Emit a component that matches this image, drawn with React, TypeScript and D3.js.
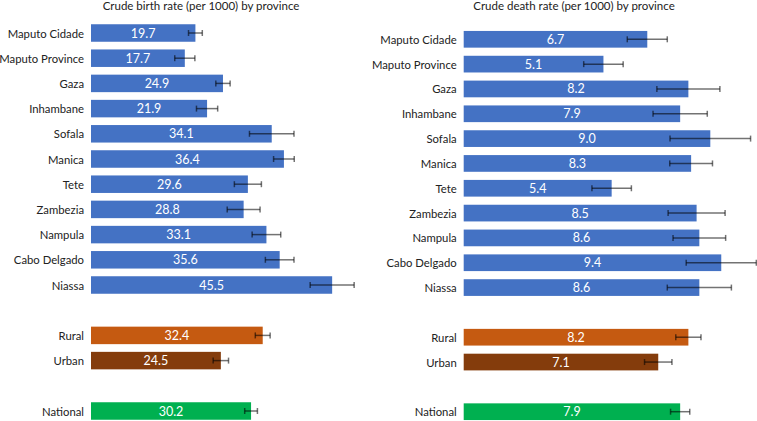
import { scaleLinear } from 'd3'

const width = 757
const height = 421

const provinces = [
  'Maputo Cidade',
  'Maputo Province',
  'Gaza',
  'Inhambane',
  'Sofala',
  'Manica',
  'Tete',
  'Zambezia',
  'Nampula',
  'Cabo Delgado',
  'Niassa',
]
const residence = ['Rural', 'Urban']
const nationalLabel = 'National'

const birthProvince = [19.7, 17.7, 24.9, 21.9, 34.1, 36.4, 29.6, 28.8, 33.1, 35.6, 45.5]
const birthProvinceErr = [1.3, 1.9, 1.35, 2.0, 4.2, 1.95, 2.55, 3.1, 2.7, 2.7, 4.15]
const birthResidence = [32.4, 24.5]
const birthResidenceErr = [1.4, 1.45]
const birthNational = 30.2
const birthNationalErr = 1.2

const deathProvince = [6.7, 5.1, 8.2, 7.9, 9.0, 8.3, 5.4, 8.5, 8.6, 9.4, 8.6]
const deathProvinceErr = [0.73, 0.72, 1.15, 0.99, 1.47, 0.78, 0.72, 1.04, 0.96, 1.28, 1.17]
const deathResidence = [8.2, 7.1]
const deathResidenceErr = [0.46, 0.5]
const deathNational = 7.9
const deathNationalErr = 0.35

const colors = {
  province: '#4472C4',
  Rural: '#C55A11',
  Urban: '#843C0C',
  National: '#00B050',
}

const font = 'Lato, "Open Sans", sans-serif'

type Row = { label: string; value: number; err: number; slot: number; color: string }

const buildRows = (prov: number[], provErr: number[], res: number[], resErr: number[], nat: number, natErr: number): Row[] => [
  ...provinces.map((p, i) => ({ label: p, value: prov[i], err: provErr[i], slot: i, color: colors.province })),
  ...residence.map((r, i) => ({ label: r, value: res[i], err: resErr[i], slot: 12 + i, color: colors[r as 'Rural' | 'Urban'] })),
  { label: nationalLabel, value: nat, err: natErr, slot: 15, color: colors.National },
]

const Panel = ({ title, rows, xMax, x0, x1, y0, y1, barH, titleX, fmt }: {
  title: string; rows: Row[]; xMax: number; x0: number; x1: number; y0: number; y1: number; barH: number; titleX: number; fmt: (v: number) => string
}) => {
  const xScale = scaleLinear().domain([0, xMax]).range([x0, x1])
  const yScale = scaleLinear().domain([0, 15]).range([y0, y1])
  return (
    <g fontFamily={font}>
      <text x={titleX} y={7} textAnchor="middle" fontSize={11.5} fill="#222" dominantBaseline="middle">{title}</text>
      {rows.map((d) => {
        const y = yScale(d.slot)
        const xe = xScale(d.value)
        return (
          <g key={d.label}>
            <text x={x0 - 7} y={y} textAnchor="end" dominantBaseline="central" fontSize={11.3} fill="#222">{d.label}</text>
            <rect x={x0} y={y - barH / 2} width={xe - x0} height={barH} fill={d.color} />
            <text x={(x0 + xe) / 2} y={y} textAnchor="middle" dominantBaseline="central" fontSize={12.5} fill="#fff">{fmt(d.value)}</text>
            <g stroke="#000" strokeOpacity={0.55} strokeWidth={1.5}>
              <line x1={xScale(d.value - d.err)} x2={xScale(d.value + d.err)} y1={y} y2={y} />
              <line x1={xScale(d.value - d.err)} x2={xScale(d.value - d.err)} y1={y - 3} y2={y + 3} />
              <line x1={xScale(d.value + d.err)} x2={xScale(d.value + d.err)} y1={y - 3} y2={y + 3} />
            </g>
          </g>
        )
      })}
    </g>
  )
}

const App = () => {
  const birthRows = buildRows(birthProvince, birthProvinceErr, birthResidence, birthResidenceErr, birthNational, birthNationalErr)
  const deathRows = buildRows(deathProvince, deathProvinceErr, deathResidence, deathResidenceErr, deathNational, deathNationalErr)
  return (
    <svg width={width} height={height} style={{ position: 'absolute', left: 0, top: 0, background: '#fff' }}>
      <Panel title="Crude birth rate (per 1000) by province" rows={birthRows} xMax={50} x0={91} x1={356} y0={33} y1={411} barH={17.5} titleX={201} fmt={(v) => v.toFixed(1)} />
      <Panel title="Crude death rate (per 1000) by province" rows={deathRows} xMax={10} x0={463.7} x1={737.7} y0={39.3} y1={411.7} barH={16.7} titleX={574} fmt={(v) => v.toFixed(1)} />
    </svg>
  )
}

export default App
